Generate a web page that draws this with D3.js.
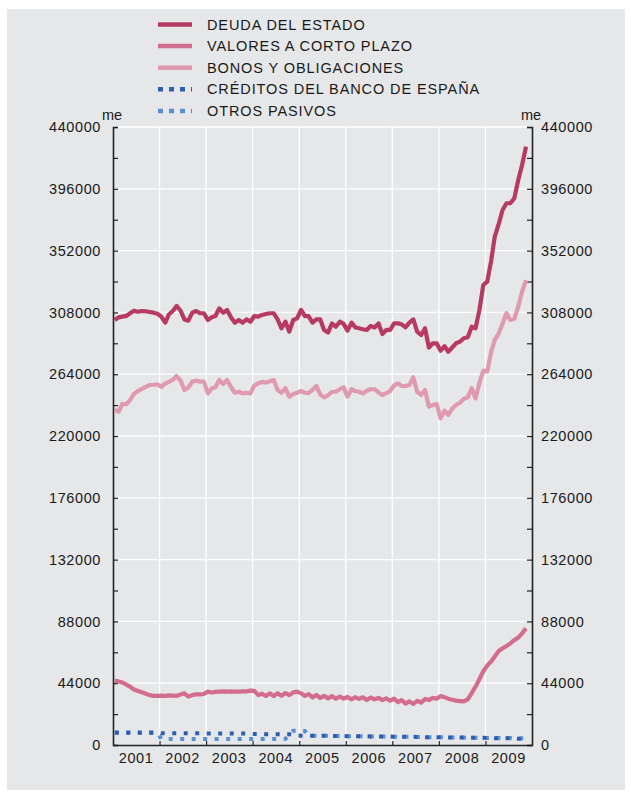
<!DOCTYPE html>
<html>
<head>
<meta charset="utf-8">
<script src="https://cdn.jsdelivr.net/npm/d3@7"></script>
<style>
  body { margin: 0; background: #fff; }
  text { font-family: "Liberation Sans", Arial, Helvetica, sans-serif; fill: #1a1a1a; }
</style>
</head>
<body>
<svg width="631" height="796"></svg>
<script>
// monthly data, jan 2001 .. nov 2009 (millones de euros)
var startYear = 2001;

var deuda = [302600,304500,305000,305500,307400,309200,308500,309000,308800,308300,307800,307000,
  305000,300700,306500,309000,312600,309200,303000,302100,307800,309000,307400,307400,
  302600,304500,305400,310900,307800,309700,304500,300700,302600,300700,303000,301400,
  305400,305000,306200,306900,307400,307400,303000,296700,301400,294300,302600,303800,
  309700,305400,305400,300700,303000,303000,295500,293600,300200,297800,301400,299800,
  295000,300700,297500,296700,296000,295500,298300,297300,300200,292600,295500,295500,
  300200,300200,299500,297400,300700,303000,294300,291900,296700,283000,286000,286000,
  280700,284000,280000,283000,286000,287200,289600,290300,297800,296700,310000,327500,
  329900,345000,362000,371000,380900,385700,385700,389200,402300,412900,426000];

var valores = [45800,45200,44500,43000,41500,39500,38500,37500,36500,35500,35000,35000,
  35200,35000,35300,35200,35000,36000,36800,34500,35500,36100,36100,36300,
  38000,37400,37800,38000,38200,38000,38200,38000,38000,38200,38200,38700,
  38500,35500,36500,34900,36800,34800,36800,35000,37000,35500,37500,38000,
  36800,34900,36300,33900,35600,33500,35000,33200,34800,33000,34500,33000,
  34200,32500,34000,32800,34000,32000,33800,32500,33500,32000,33200,31500,
  33000,30500,32000,29500,31000,29200,31500,30200,32800,32000,33500,33000,
  34900,34000,33000,32200,31600,31300,31000,32500,37000,41500,47000,52500,
  56500,59500,63000,67000,68800,70500,72300,74600,76500,79500,83000];

var bonos = [238500,237300,242800,242600,245500,250000,252000,253500,255000,256300,256500,256800,
  255000,257500,258500,260000,262700,259500,252800,254500,258700,259400,258700,258700,
  250300,254000,254700,259900,257000,259900,255000,250800,251500,250300,250800,250300,
  256000,257500,258500,258000,259000,259900,252800,250800,254000,248000,249900,250800,
  252000,250800,250500,252800,255600,249500,247500,249000,251500,251500,253300,254700,
  248000,253300,252000,251500,250300,252200,253300,253300,251000,249200,250500,252000,
  256000,257500,255600,255600,256300,261800,251500,249200,252800,240900,242100,242800,
  232600,238000,235000,239500,242100,243700,246500,247500,254000,246900,258000,266500,
  266000,280000,288400,293100,300000,307400,302600,303500,312000,322700,331000];

var creditos = [8800,8800,8800,8800,8800,8800,8800,8800,8800,8800,8800,8800,
  8300,8300,8300,8300,8300,8300,8300,8300,8300,8300,8300,8300,
  8200,8200,8200,8200,8200,8200,8200,8100,8100,8100,8100,8100,
  7800,7800,7800,7700,7700,7700,7700,7600,7600,7600,7200,6800,
  6600,6600,6600,6600,6500,6500,6500,6500,6400,6400,6400,6400,
  6300,6300,6300,6200,6200,6200,6100,6100,6100,6000,6000,6000,
  5900,5900,5900,5800,5800,5800,5700,5700,5600,5600,5600,5500,
  5500,5400,5400,5400,5300,5300,5300,5200,5200,5100,5100,5100,
  5000,5000,4800,5000,4600,4800,5000,4500,4400,4800,5000];

var otros = [8900,8900,8900,8900,8900,8900,8900,8900,8900,8900,8900,8900,
  4300,4300,4300,4300,4300,4300,4300,4300,4300,4300,4300,4300,
  4300,4300,4300,4300,4300,4300,4300,4300,4300,4300,4300,4300,
  4300,4300,4300,4300,4300,4300,4300,4300,4400,7000,10200,10200,
  10000,10000,6800,6600,6500,6500,6500,6500,6400,6400,6400,6400,
  6300,6300,6300,6200,6200,6200,6100,6100,6100,6000,6000,6000,
  5900,5900,5900,5800,5800,5800,5700,5700,5600,5600,5600,5500,
  5500,5400,5400,5400,5300,5300,5300,5200,5200,5100,5100,5100,
  5000,5000,4800,5000,4600,4800,5000,4500,4400,4800,5000];

var years = [2001,2002,2003,2004,2005,2006,2007,2008,2009];
var yTicks = d3.range(0, 440001, 22000);

var seriesNames = ["DEUDA DEL ESTADO","VALORES A CORTO PLAZO","BONOS Y OBLIGACIONES",
  "CRÉDITOS DEL BANCO DE ESPAÑA","OTROS PASIVOS"];

var svg = d3.select("svg");

// grey panel
svg.append("rect").attr("x", 7).attr("y", 9).attr("width", 618).attr("height", 781)
  .attr("fill", "#e6e7e9");

var pLeft = 113, pRight = 532, pTop = 127, pBottom = 745;

var x = d3.scaleTime()
  .domain([new Date(2001, 0, 1), new Date(2010, 0, 1)])
  .range([pLeft, pRight]);
var y = d3.scaleLinear().domain([0, 440000]).range([pBottom, pTop]);

function monthDate(i) { return new Date(startYear, i, 15); }

// grid
svg.append("g").selectAll("line")
  .data(yTicks.filter(function (d) { return d % 44000 === 0 && d > 0; }))
  .enter().append("line")
  .attr("x1", pLeft).attr("x2", pRight)
  .attr("y1", function (d) { return y(d); }).attr("y2", function (d) { return y(d); })
  .style("stroke", "#fff").style("stroke-width", 1.3);

svg.append("g").selectAll("line")
  .data(years.slice(1))
  .enter().append("line")
  .attr("x1", function (d) { return x(new Date(d, 0, 1)); })
  .attr("x2", function (d) { return x(new Date(d, 0, 1)); })
  .attr("y1", pTop).attr("y2", pBottom)
  .style("stroke", "#fff").style("stroke-width", 1.3);

// axes
var fmt = function (d) { return d % 44000 === 0 ? String(d) : ""; };

var gl = svg.append("g").attr("transform", "translate(" + pLeft + ",0)")
  .call(d3.axisLeft(y).tickValues(yTicks).tickSize(-5).tickPadding(12).tickFormat(fmt));
var gr = svg.append("g").attr("transform", "translate(" + pRight + ",0)")
  .call(d3.axisRight(y).tickValues(yTicks).tickSize(-5).tickPadding(9).tickFormat(fmt));
var gb = svg.append("g").attr("transform", "translate(0," + pBottom + ")")
  .call(d3.axisBottom(x).tickValues(years.slice(1).map(function (d) { return new Date(d, 0, 1); }))
    .tickSize(-4).tickSizeOuter(0).tickFormat(""));

[gl, gr, gb].forEach(function (g) {
  g.select(".domain").style("stroke", "#222").style("stroke-width", 1.6);
  g.selectAll(".tick line").style("stroke", "#222").style("stroke-width", 1.2);
  g.selectAll("text").style("font-size", "14.5px").style("letter-spacing", "0.6px")
    .style("font-family", "Liberation Sans, Arial, sans-serif").style("fill", "#1a1a1a");
});

// year labels
svg.append("g").selectAll("text")
  .data(years)
  .enter().append("text")
  .attr("x", function (d) { return x(new Date(d, 6, 1)); })
  .attr("y", 763)
  .attr("text-anchor", "middle")
  .style("font-size", "14.5px").style("letter-spacing", "0.6px")
  .text(function (d) { return d; });

svg.append("text").attr("x", 102).attr("y", 120).style("font-size", "14.5px").text("me");
svg.append("text").attr("x", 521).attr("y", 120).style("font-size", "14.5px").text("me");

// lines
var line = d3.line()
  .x(function (d, i) { return x(monthDate(i)); })
  .y(function (d) { return y(d); });

var colors = ["#b73a62", "#d26d8e", "#e09ab0", "#2e5fae", "#5b8fd4"];
var allSeries = [deuda, valores, bonos, creditos, otros];

// draw order: bonos, valores, deuda, blue dotted
[2, 1, 0].forEach(function (k) {
  svg.append("path")
    .attr("d", line(allSeries[k]))
    .style("fill", "none")
    .style("stroke", colors[k])
    .style("stroke-width", 4.2)
    .style("stroke-linejoin", "round");
});

svg.append("path")
  .attr("d", line(otros))
  .style("fill", "none").style("stroke", colors[4]).style("stroke-width", 4)
  .style("stroke-dasharray", "4,7.5");
svg.append("path")
  .attr("d", line(creditos))
  .style("fill", "none").style("stroke", colors[3]).style("stroke-width", 4)
  .style("stroke-dasharray", "4,7.5");

// legend
var leg = svg.append("g");
seriesNames.forEach(function (name, k) {
  var ly = 24.5 + k * 21.6;
  leg.append("line")
    .attr("x1", 158).attr("x2", 192).attr("y1", ly).attr("y2", ly)
    .style("stroke", colors[k]).style("stroke-width", 4.5)
    .style("stroke-dasharray", k >= 3 ? "5,6" : null);
  leg.append("text")
    .attr("x", 207).attr("y", ly + 5)
    .style("font-size", "14.5px").style("letter-spacing", "0.9px")
    .text(name);
});
</script>
</body>
</html>
